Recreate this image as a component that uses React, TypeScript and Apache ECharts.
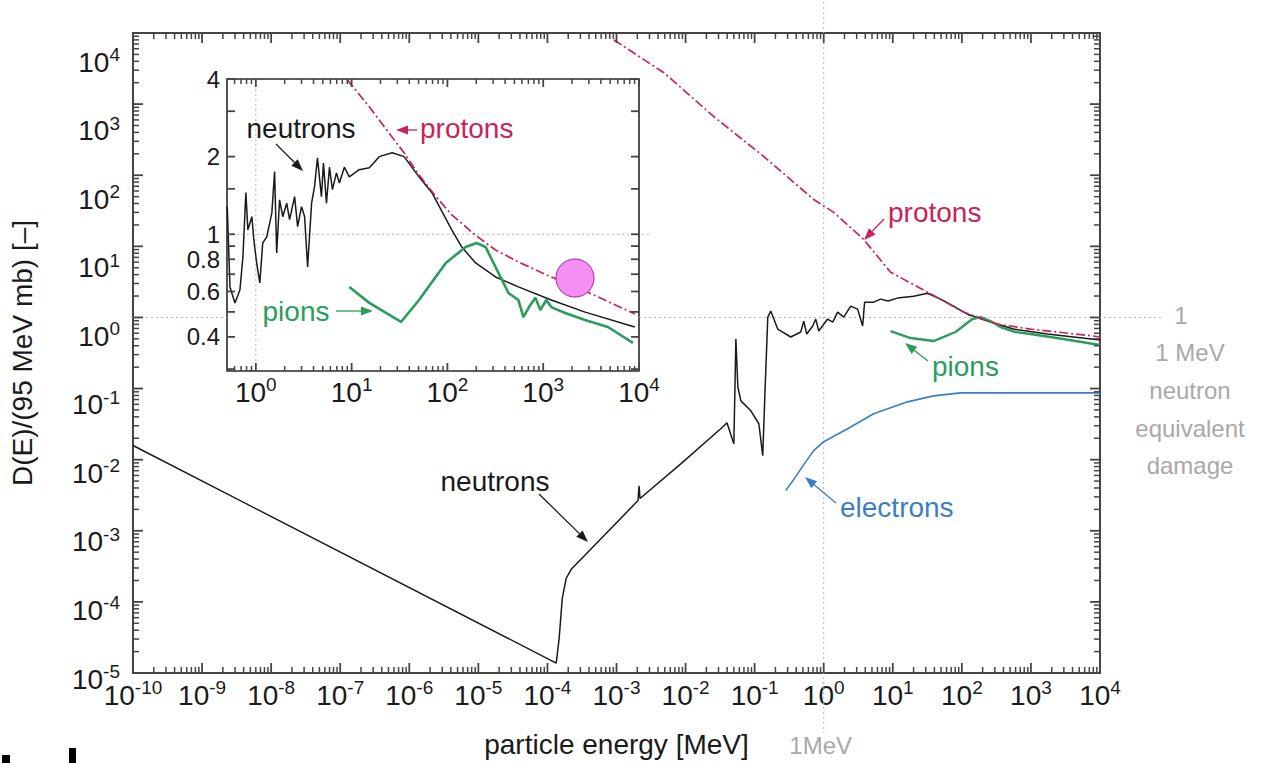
import React, { useEffect, useRef } from 'react';
import * as echarts from 'echarts';

// ---------- data (energy in MeV, damage function normalised to 95 MeV mb) ----------
const neutronsMain: [number, number][] = [
  [1e-10, 0.0158], [1.34e-4, 1.38e-5], [1.48e-4, 3.1e-5], [1.64e-4, 1.12e-4], [1.87e-4, 2.15e-4],
  [2.21e-4, 2.87e-4], [6.0e-4, 7.8e-4], [2.05e-3, 2.66e-3], [2.12e-3, 4.3e-3], [2.19e-3, 2.84e-3],
  [8.6e-3, 8.8e-3], [0.0348, 0.029], [0.0397, 0.033], [0.05, 0.0168], [0.0535, 0.497],
  [0.0571, 0.106], [0.0632, 0.0671], [0.0881, 0.0487], [0.115, 0.032], [0.131, 0.0114],
  [0.14, 0.0716], [0.155, 1.01], [0.171, 1.23], [0.216, 0.687], [0.333, 0.531], [0.465, 0.624],
  [0.514, 0.889], [0.568, 0.585], [0.693, 0.757], [0.766, 0.949], [0.847, 0.644], [1.14, 0.949],
  [1.35, 0.861], [1.59, 1.19], [1.95, 1.01], [2.46, 1.44], [3.1, 1.31], [3.66, 0.757], [3.91, 1.64],
  [5.28, 1.64], [6.67, 1.81], [8.5, 1.7], [11.7, 1.87], [20.0, 1.99], [31.9, 2.19], [49.1, 1.81],
  [75.6, 1.44], [120, 1.11], [259, 0.861], [557, 0.687], [1727, 0.585], [10000, 0.482],
];
const protonsMain: [number, number][] = [
  [9.2e-4, 7980], [4.87e-3, 2754], [0.0257, 665], [0.136, 183], [0.716, 45.6], [1.4, 30],
  [3.79, 12.5], [9.29, 4.33], [31.9, 2.27], [105, 1.19], [327, 0.807], [979, 0.687],
  [7980, 0.548], [10000, 0.531],
];
const pionsMain: [number, number][] = [
  [9.29, 0.644], [18.1, 0.513], [38.9, 0.466], [80.9, 0.624], [142, 0.949], [186, 1.01],
  [259, 0.889], [361, 0.733], [595, 0.624], [980, 0.585], [2940, 0.498], [10000, 0.409],
];
const electronsMain: [number, number][] = [
  [0.283, 3.68e-3], [0.394, 5.78e-3], [0.514, 8.51e-3], [0.716, 0.0134], [1.0, 0.0179],
  [2.22, 0.0272], [5.28, 0.0442], [16.4, 0.065], [38.9, 0.0789], [95.5, 0.0869], [10000, 0.0869],
];
const neutronsInset: [number, number][] = [
  [0.503, 1.28], [0.537, 0.625], [0.605, 0.541], [0.682, 0.608], [0.733, 0.817], [0.787, 1.45],
  [0.826, 1.04], [0.909, 1.17], [0.953, 0.95], [1.02, 0.774], [1.1, 0.648], [1.18, 0.925],
  [1.3, 0.977], [1.47, 1.21], [1.57, 1.75], [1.65, 0.846], [1.77, 1.36], [1.91, 1.17], [2.1, 1.32],
  [2.25, 1.14], [2.54, 1.4], [2.73, 1.07], [3.0, 1.28], [3.23, 1.17], [3.47, 0.747], [3.82, 1.32],
  [4.1, 1.53], [4.4, 1.98], [4.84, 1.4], [5.08, 1.89], [5.46, 1.32], [5.87, 1.82], [6.3, 1.49],
  [6.94, 1.73], [7.45, 1.58], [8.4, 1.82], [9.46, 1.67], [12.0, 1.78], [15.3, 1.81], [19.4, 2.0],
  [26.5, 2.07], [35.3, 2.0], [50.5, 1.67], [68.9, 1.45], [111, 1.04], [141, 0.893], [197, 0.774],
  [318, 0.683], [551, 0.625], [1213, 0.556], [2735, 0.499], [9040, 0.437],
];
const protonsInset: [number, number][] = [
  [9.02, 3.97], [15.3, 3.12], [26.5, 2.38], [35.3, 2.07], [50.5, 1.7], [75.8, 1.4], [111, 1.19],
  [197, 0.99], [318, 0.869], [551, 0.781], [1213, 0.683], [2735, 0.603], [9040, 0.491],
];
const pionsInset: [number, number][] = [
  [9.46, 0.625], [15.3, 0.542], [32.8, 0.457], [50.5, 0.556], [96.2, 0.774], [155, 0.893],
  [202, 0.925], [250, 0.893], [342, 0.707], [434, 0.592], [551, 0.556], [621, 0.477], [734, 0.532],
  [828, 0.567], [933, 0.508], [1077, 0.556], [1213, 0.522], [1695, 0.495], [2735, 0.465],
  [4740, 0.437], [8630, 0.379],
];

// ---------- axis ticks / labels ----------
const mainXMajor = [1e-10, 1e-9, 1e-8, 1e-7, 1e-6, 1e-5, 1e-4, 1e-3, 1e-2, 1e-1, 1, 10, 100, 1000, 10000];
const mainYMajor = [1e-5, 1e-4, 1e-3, 1e-2, 1e-1, 1, 10, 100, 1000, 10000];
const insetXMajor = [1, 10, 100, 1000, 10000];
const insetYLabels = [0.4, 0.6, 0.8, 1, 2, 4];
const insetYTicks = [0.3, 0.4, 0.5, 0.6, 0.7, 0.8, 0.9, 1, 1.5, 2, 3, 4];
const minorMultipliers = [2, 3, 4, 5, 6, 7, 8, 9];

function minorTicks(decades: number[], lo: number, hi: number): number[] {
  const out: number[] = [];
  decades.forEach((d) => minorMultipliers.forEach((m) => {
    const v = parseFloat((m * d).toPrecision(6));
    if (v > lo && v < hi) out.push(v);
  }));
  return out;
}

const FONT = '"Liberation Sans", Arial, Helvetica, sans-serif';
const LBL = 28;
const SUP = 19;
const MAIN = { left: 131, top: 33, width: 969, height: 642 };
const INSET = { left: 227, top: 79, width: 412, height: 292 };
// the printed y tick labels of the original sit on a slightly compressed scale
const YLABELS = { left: 131, top: 62, width: 969, height: 617 };
const MAIN_X = [1e-10, 1e4];
const MAIN_Y = [1e-5, 1e4];
const INSET_X = [0.5, 1e4];
const INSET_Y = [0.295, 4];

const C_N = '#1a1a1a';
const C_P = '#c8235a';
const C_PI = '#2a9d5c';
const C_E = '#3a7ec4';
const C_GRAY = '#a8a8a8';
const C_TICK = '#454545';

const rich = {
  b: { fontSize: LBL, fontFamily: FONT, color: '#1a1a1a' },
  s: { fontSize: SUP, fontFamily: FONT, color: '#1a1a1a', padding: [0, 0, 15, 0] },
};
const powLabel = (v: number) => `{b|10}{s|${Math.round(Math.log10(v))}}`;

function axis(gridIndex: number, position: string, range: number[], label?: any, extra?: any) {
  return {
    type: 'log', logBase: 10, gridIndex, position, min: range[0], max: range[1],
    axisLine: { show: false },
    splitLine: { show: false },
    minorTick: { show: false },
    axisTick: { show: false },
    axisLabel: label ? label : { show: false },
    ...(extra || {}),
  };
}

// inward ticks on the four sides of a grid: thin rect symbols placed on the grid's own log axes
function tickSeries(idx: number, xr: number[], yr: number[], xMaj: number[], xMin: number[], yMaj: number[], yMin: number[],
  majLen: number, minLen: number) {
  const data: any[] = [];
  const xt = (v: number, len: number, w: number) => {
    data.push({ value: [v, yr[0]], symbolSize: [w, len], symbolOffset: [0, -len / 2] });
    data.push({ value: [v, yr[1]], symbolSize: [w, len], symbolOffset: [0, len / 2] });
  };
  const yt = (v: number, len: number, w: number) => {
    data.push({ value: [xr[0], v], symbolSize: [len, w], symbolOffset: [len / 2, 0] });
    data.push({ value: [xr[1], v], symbolSize: [len, w], symbolOffset: [-len / 2, 0] });
  };
  xMaj.forEach((v) => xt(v, majLen, 1.8));
  xMin.forEach((v) => xt(v, minLen, 1.5));
  yMaj.forEach((v) => yt(v, majLen, 1.8));
  yMin.forEach((v) => yt(v, minLen, 1.5));
  return {
    type: 'scatter', xAxisIndex: idx, yAxisIndex: idx, data, symbol: 'rect', clip: false, silent: true,
    large: false, z: 5, itemStyle: { color: C_TICK, opacity: 1 },
  };
}

function arrow(x1: number, y1: number, x2: number, y2: number, color: string) {
  const a = Math.atan2(y2 - y1, x2 - x1);
  const L = 12, W = 4.5;
  const bx = x2 - L * Math.cos(a), by = y2 - L * Math.sin(a);
  const px = -Math.sin(a) * W, py = Math.cos(a) * W;
  return [
    { type: 'line', z: 100, shape: { x1, y1, x2: bx, y2: by }, style: { stroke: color, lineWidth: 1.3 } },
    { type: 'polygon', z: 100, shape: { points: [[x2, y2], [bx + px, by + py], [bx - px, by - py]] }, style: { fill: color } },
  ];
}

function label(text: string, x: number, y: number, color: string, align = 'left', size = LBL) {
  return {
    type: 'text', z: 100,
    style: { text, x, y, fill: color, fontSize: size, fontFamily: FONT, align, verticalAlign: 'middle', textAlign: align, textVerticalAlign: 'middle' },
  };
}

export default function App() {
  const ref = useRef<HTMLDivElement>(null);
  useEffect(() => {
    if (!ref.current) return;
    const chart = echarts.init(ref.current, undefined, { renderer: 'svg' });

    const mainXMinor = minorTicks(mainXMajor, MAIN_X[0], MAIN_X[1]);
    const mainYMinor = minorTicks(mainYMajor, MAIN_Y[0], MAIN_Y[1]);
    const insetXMinor = minorTicks([0.1, 1, 10, 100, 1000], INSET_X[0], INSET_X[1]);

    const xLabel = { show: true, formatter: powLabel, rich, margin: 5, customValues: mainXMajor };
    const yLabel = { show: true, formatter: powLabel, rich, margin: 11, customValues: mainYMajor };
    const ixLabel = { show: true, formatter: powLabel, rich, margin: 4, customValues: insetXMajor };
    const iyLabel = {
      show: true, formatter: (v: number) => String(v), fontSize: 24, lineHeight: 20, fontFamily: FONT, color: '#1a1a1a',
      margin: 7, customValues: insetYLabels,
    };

    const line = (data: [number, number][], idx: number, color: string, width: number, dashed = false) => ({
      type: 'line', xAxisIndex: idx, yAxisIndex: idx, data, showSymbol: false, symbol: 'none', clip: true,
      lineStyle: { color, width, type: dashed ? [9, 3, 2, 3] : 'solid' }, z: 3,
    });

    const option: any = {
      animation: false,
      backgroundColor: '#ffffff',
      grid: [
        { ...MAIN, show: true, borderColor: '#444444', borderWidth: 2, backgroundColor: 'transparent', containLabel: false },
        { ...INSET, show: true, borderColor: '#2a2a2a', borderWidth: 1.6, backgroundColor: '#ffffff', containLabel: false },
        { ...YLABELS, show: false, containLabel: false },
      ],
      xAxis: [
        axis(0, 'bottom', MAIN_X, xLabel, {
          name: 'particle energy [MeV]', nameLocation: 'middle', nameGap: 57,
          nameTextStyle: { fontSize: LBL, fontFamily: FONT, color: '#1a1a1a' },
        }),
        axis(1, 'bottom', INSET_X, ixLabel),
        axis(2, 'bottom', MAIN_X, undefined, { show: false }),
      ],
      yAxis: [
        axis(0, 'left', MAIN_Y, undefined, {
          name: 'D(E)/(95 MeV mb) [–]', nameLocation: 'middle', nameRotate: 90, nameGap: 97,
          nameTextStyle: { fontSize: LBL, fontFamily: FONT, color: '#1a1a1a' },
        }),
        axis(1, 'left', INSET_Y, iyLabel),
        axis(2, 'left', MAIN_Y, yLabel),
      ],
      series: [
        tickSeries(0, MAIN_X, MAIN_Y, mainXMajor, mainXMinor, mainYMajor, mainYMinor, 10, 6),
        line(neutronsMain, 0, C_N, 1.5),
        line(pionsMain, 0, C_PI, 2.4),
        line(electronsMain, 0, C_E, 1.6),
        line(protonsMain, 0, C_P, 1.7, true),
        tickSeries(1, INSET_X, INSET_Y, insetXMajor, insetXMinor, insetYTicks, [], 8, 5),
        line(neutronsInset, 1, C_N, 1.5),
        line(pionsInset, 1, C_PI, 2.6),
        line(protonsInset, 1, C_P, 1.7, true),
      ],
    };
    chart.setOption(option);

    const toPx = (grid: number, x: number, y: number) => chart.convertToPixel({ gridIndex: grid }, [x, y]) as number[];
    const [x1, y1] = toPx(0, 1, 1);
    const [ix1, iy1] = toPx(1, 1, 1);
    const dot = (xa: number, ya: number, xb: number, yb: number) => ({
      type: 'line', z: 1, silent: true,
      shape: { x1: xa, y1: ya, x2: xb, y2: yb },
      style: { stroke: '#b4b4b4', lineWidth: 1, lineDash: [2, 3] },
    });

    const graphic: any[] = [
      dot(MAIN.left, y1, INSET.left, y1),
      dot(INSET.left + INSET.width, y1, 1162, y1),
      dot(x1, 2, x1, 733),
      dot(INSET.left, iy1, INSET.left + INSET.width + 10, iy1),
      dot(ix1, INSET.top, ix1, INSET.top + INSET.height),
      // right-hand grey note
      label('1', 1181, y1 - 2, C_GRAY, 'center', 24),
      label('1 MeV', 1190, 352, C_GRAY, 'center', 24),
      label('neutron', 1190, 390, C_GRAY, 'center', 24),
      label('equivalent', 1190, 428, C_GRAY, 'center', 24),
      label('damage', 1190, 465, C_GRAY, 'center', 24),
      label('1MeV', x1 - 3, 745, C_GRAY, 'center', 24),
      // main annotations
      label('protons', 888, 212, C_P),
      ...arrow(884, 219, 864, 240, C_P),
      label('pions', 932, 366, C_PI),
      ...arrow(928, 361, 905, 343, C_PI),
      label('electrons', 840, 507, C_E),
      ...arrow(836, 503, 805, 477, C_E),
      label('neutrons', 495, 481, C_N, 'center'),
      ...arrow(539, 494, 588, 542, C_N),
      // inset annotations
      label('neutrons', 301, 128, C_N, 'center'),
      ...arrow(276, 144, 303, 171, C_N),
      label('protons', 420, 128, C_P),
      ...arrow(417, 130, 396, 130, C_P),
      label('pions', 296, 311, C_PI, 'center'),
      ...arrow(336, 311, 373, 311, C_PI),
      // overlay marks
      { type: 'circle', z: 200, shape: { cx: 575, cy: 278, r: 19 }, style: { fill: '#f58ff3', stroke: '#a41aa4', lineWidth: 1 } },
      { type: 'rect', z: 200, shape: { x: 2, y: 755, width: 8, height: 8 }, style: { fill: '#000' } },
      { type: 'rect', z: 200, shape: { x: 69, y: 748, width: 7, height: 15 }, style: { fill: '#000' } },
    ];
    chart.setOption({ graphic });

    return () => chart.dispose();
  }, []);

  return (
    <div
      ref={ref}
      style={{ position: 'fixed', left: 0, top: 0, width: '1261px', height: '763px', background: '#fff' }}
    />
  );
}
